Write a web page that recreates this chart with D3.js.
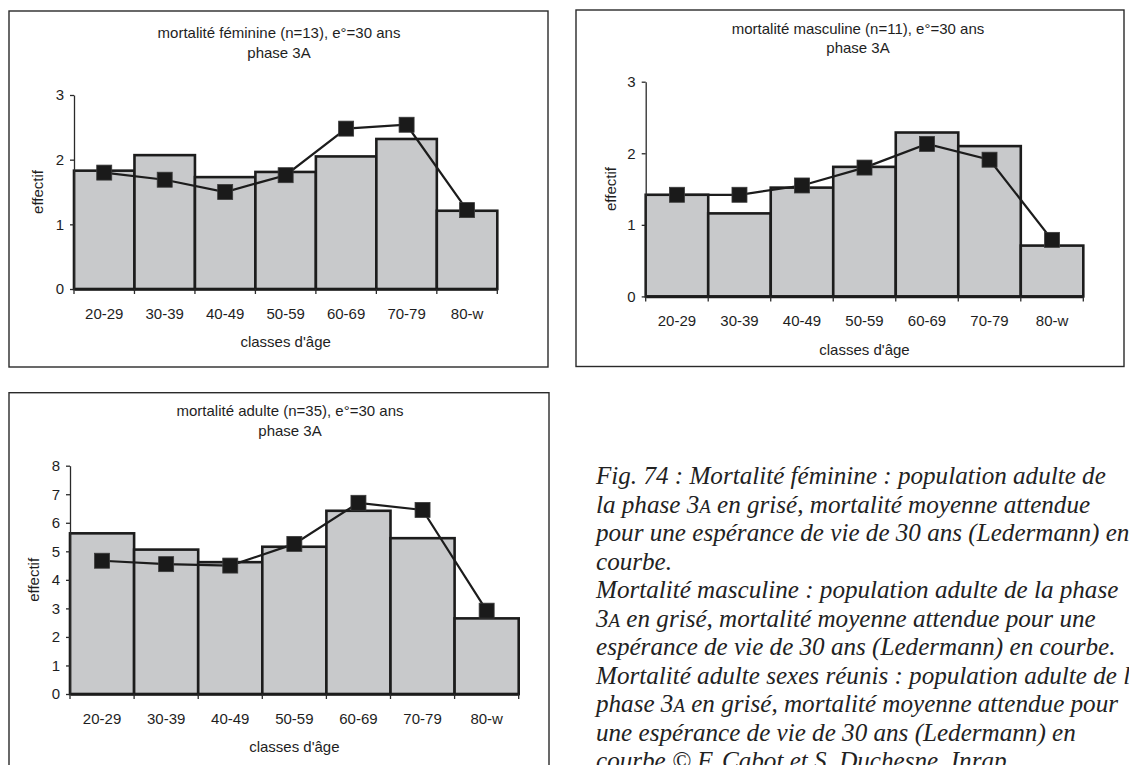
<!DOCTYPE html>
<html>
<head>
<meta charset="utf-8">
<script src="https://cdn.jsdelivr.net/npm/d3@7"></script>
<style>
  html, body { margin: 0; padding: 0; background: #fff; }
  svg { display: block; }
</style>
</head>
<body>
<svg id="chart" width="1129" height="765"></svg>
<script>
// ---------------- DATA ----------------
const categories = ["20-29", "30-39", "40-49", "50-59", "60-69", "70-79", "80-w"];

const femObserved  = [1.83, 2.07, 1.73, 1.81, 2.05, 2.32, 1.21];
const femExpected  = [1.80, 1.69, 1.50, 1.76, 2.48, 2.54, 1.22];

const mascObserved = [1.42, 1.16, 1.52, 1.81, 2.29, 2.10, 0.71];
const mascExpected = [1.42, 1.42, 1.55, 1.80, 2.13, 1.91, 0.79];

const adultObserved = [5.63, 5.06, 4.62, 5.16, 6.42, 5.46, 2.65];
const adultExpected = [4.67, 4.55, 4.50, 5.26, 6.70, 6.45, 2.92];

const femTicks = [0, 1, 2, 3];
const mascTicks = [0, 1, 2, 3];
const adultTicks = [0, 1, 2, 3, 4, 5, 6, 7, 8];

const femTitle = ["mortalité féminine (n=13), e°=30 ans", "phase 3A"];
const mascTitle = ["mortalité masculine (n=11), e°=30 ans", "phase 3A"];
const adultTitle = ["mortalité adulte (n=35), e°=30 ans", "phase 3A"];

const xAxisTitle = "classes d'âge";
const yAxisTitle = "effectif";

const captionLines = [
  "Fig. 74 : Mortalité féminine : population adulte de",
  "la phase 3A en grisé, mortalité moyenne attendue",
  "pour une espérance de vie de 30 ans (Ledermann) en",
  "courbe.",
  "Mortalité masculine : population adulte de la phase",
  "3A en grisé, mortalité moyenne attendue pour une",
  "espérance de vie de 30 ans (Ledermann) en courbe.",
  "Mortalité adulte sexes réunis : population adulte de la",
  "phase 3A en grisé, mortalité moyenne attendue pour",
  "une espérance de vie de 30 ans (Ledermann) en",
  "courbe © F. Cabot et S. Duchesne, Inrap."
];

// ---------------- LAYOUT ----------------
const panels = [
  { obs: femObserved, exp: femExpected, ticks: femTicks, title: femTitle,
    frame: [9, 11, 548, 367], plotX: [74, 497.3], plotY: [289, 95],
    titleX: 279, titleY: 33, yLabelX: 37.5 },
  { obs: mascObserved, exp: mascExpected, ticks: mascTicks, title: mascTitle,
    frame: [576, 10, 1124, 366.5], plotX: [645.7, 1083.3], plotY: [296.4, 81.7],
    titleX: 858, titleY: 28.5, yLabelX: 610.5 },
  { obs: adultObserved, exp: adultExpected, ticks: adultTicks, title: adultTitle,
    frame: [9, 392.7, 549, 790], plotX: [70, 518.7], plotY: [694, 465.7],
    titleX: 290, titleY: 411, yLabelX: 34 }
];

const FONT = "'Liberation Sans', Arial, Helvetica, sans-serif";
const FS = 15;
const TEXT_COLOR = "#1e1e1e";
const BAR_FILL = "#c8c9cb";
const DARK = "#1c1c1c";

const svg = d3.select("#chart");
svg.append("rect").attr("x", 0).attr("y", 0).attr("width", 1129).attr("height", 765).attr("fill", "#fff");

panels.forEach(p => {
  const g = svg.append("g");
  const [fx0, fy0, fx1, fy1] = p.frame;

  // frame
  g.append("rect")
    .attr("x", fx0).attr("y", fy0)
    .attr("width", fx1 - fx0).attr("height", fy1 - fy0)
    .attr("fill", "none").attr("stroke", "#2a2a2a").attr("stroke-width", 1.4);

  // title
  p.title.forEach((t, i) => {
    g.append("text")
      .attr("x", p.titleX).attr("y", p.titleY + i * 19.5)
      .attr("dy", "0.35em")
      .attr("text-anchor", "middle")
      .attr("font-family", FONT).attr("font-size", FS)
      .attr("fill", TEXT_COLOR)
      .text(t);
  });

  const x = d3.scaleBand().domain(categories).range(p.plotX).paddingInner(0).paddingOuter(0);
  const yMax = d3.max(p.ticks);
  const y = d3.scaleLinear().domain([0, yMax]).range(p.plotY);

  // bars
  g.selectAll("rect.bar")
    .data(categories.map((c, i) => ({ c, v: p.obs[i] })))
    .enter().append("rect")
    .attr("class", "bar")
    .attr("x", d => x(d.c))
    .attr("y", d => y(d.v))
    .attr("width", x.bandwidth())
    .attr("height", d => y(0) - y(d.v))
    .attr("fill", BAR_FILL)
    .attr("stroke", DARK)
    .attr("stroke-width", 2.6);

  // y axis
  const yAxis = g.append("g")
    .attr("transform", `translate(${p.plotX[0]},0)`)
    .call(d3.axisLeft(y).tickValues(p.ticks).tickSize(4).tickPadding(6).tickSizeOuter(0).tickFormat(d3.format("d")));
  yAxis.select(".domain").attr("stroke", "#2a2a2a").attr("stroke-width", 1.3);
  yAxis.selectAll(".tick line").attr("stroke", "#2a2a2a").attr("stroke-width", 1.3);
  yAxis.selectAll("text").attr("font-family", FONT).attr("font-size", FS).attr("fill", TEXT_COLOR);

  // x axis: labels at band centres
  const xAxis = g.append("g")
    .attr("transform", `translate(0,${y(0)})`)
    .call(d3.axisBottom(x).tickSize(0).tickPadding(19).tickSizeOuter(0));
  xAxis.select(".domain").attr("stroke", DARK).attr("stroke-width", 2.6);
  xAxis.selectAll("text").attr("font-family", FONT).attr("font-size", FS).attr("fill", TEXT_COLOR);

  // x tick marks at band boundaries
  const bounds = categories.map(c => x(c)).concat([x(categories[categories.length - 1]) + x.bandwidth()]);
  g.selectAll("line.xtick").data(bounds).enter().append("line")
    .attr("class", "xtick")
    .attr("x1", d => d).attr("x2", d => d)
    .attr("y1", y(0)).attr("y2", y(0) + 5)
    .attr("stroke", "#2a2a2a").attr("stroke-width", 1.3);

  // axis titles
  g.append("text")
    .attr("x", (p.plotX[0] + p.plotX[1]) / 2)
    .attr("y", y(0) + 53)
    .attr("dy", "0.35em")
    .attr("text-anchor", "middle")
    .attr("font-family", FONT).attr("font-size", FS).attr("fill", TEXT_COLOR)
    .text(xAxisTitle);

  const yc = (p.plotY[0] + p.plotY[1]) / 2;
  g.append("text")
    .attr("transform", `translate(${p.yLabelX},${yc}) rotate(-90)`)
    .attr("dy", "0.35em")
    .attr("text-anchor", "middle")
    .attr("font-family", FONT).attr("font-size", FS).attr("fill", TEXT_COLOR)
    .text(yAxisTitle);

  // expected line
  const pts = categories.map((c, i) => ({ c, v: p.exp[i] }));
  const line = d3.line().x(d => x(d.c) + x.bandwidth() / 2).y(d => y(d.v));
  g.append("path")
    .datum(pts)
    .attr("d", line)
    .attr("fill", "none")
    .attr("stroke", DARK)
    .attr("stroke-width", 2.2);

  const M = 15;
  g.selectAll("rect.marker").data(pts).enter().append("rect")
    .attr("class", "marker")
    .attr("x", d => x(d.c) + x.bandwidth() / 2 - M / 2)
    .attr("y", d => y(d.v) - M / 2)
    .attr("width", M).attr("height", M)
    .attr("fill", "#1a1a1a")
    .attr("stroke", "#3a3a3a").attr("stroke-width", 0.8);
});

// ---------------- CAPTION ----------------
const capFont = "'Liberation Serif', 'DejaVu Serif', serif";
const cap = svg.append("g");
// measure to fit reference width of first line (~510 px)
const probe = cap.append("text").attr("font-family", capFont).attr("font-style", "italic")
  .attr("font-size", 20).text(captionLines[0]);
const w20 = probe.node().getComputedTextLength();
probe.remove();
const capFS = 20 * 510 / w20;

captionLines.forEach((ln, i) => {
  const t = cap.append("text")
    .attr("x", 596)
    .attr("y", 484 + i * 28.5)
    .attr("font-family", capFont)
    .attr("font-style", "italic")
    .attr("font-size", capFS)
    .attr("fill", "#222");
  const parts = ln.split("3A");
  parts.forEach((part, j) => {
    t.append("tspan").text(part);
    if (j < parts.length - 1) {
      t.append("tspan").text("3");
      t.append("tspan").attr("font-size", capFS * 0.75).text("A");
    }
  });
});
</script>
</body>
</html>
